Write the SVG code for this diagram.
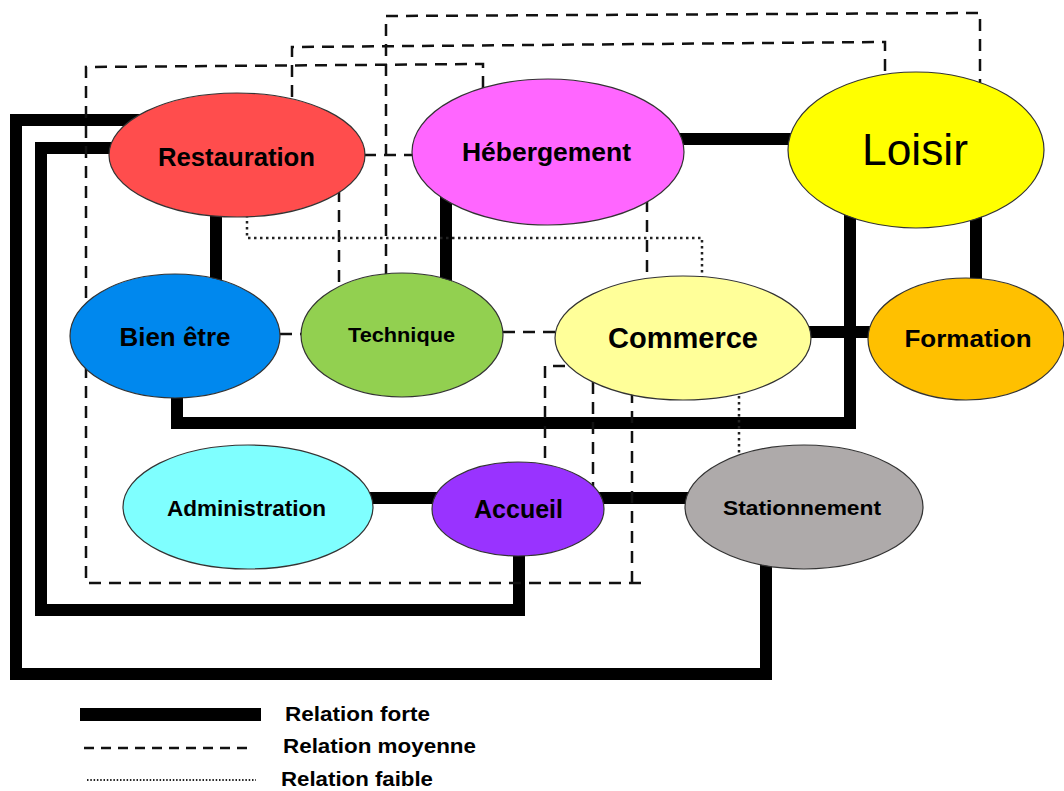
<svg xmlns="http://www.w3.org/2000/svg" width="1064" height="791" viewBox="0 0 1064 791">
<style>
.strong{fill:none;stroke:#000;stroke-width:12;stroke-linejoin:miter;stroke-linecap:butt}
.medium{fill:none;stroke:#111;stroke-width:2.5;stroke-dasharray:12 8}
.weak{fill:none;stroke:#222;stroke-width:2.5;stroke-dasharray:2.5 3.5}
.node ellipse{stroke:#333;stroke-width:1.2}
.lbl{font-family:"Liberation Sans",Arial,sans-serif;font-weight:bold;fill:#000;text-anchor:middle}
.big{font-family:"Liberation Sans",Arial,sans-serif;font-weight:normal;fill:#000;text-anchor:middle}
.leg{font-family:"Liberation Sans",Arial,sans-serif;font-weight:bold;fill:#000}
</style>
<rect width="1064" height="791" fill="#fff"/>
<g id="connectors">
  <path class="strong" d="M140 120 H16 V674 H766 V555"/>
  <path class="strong" d="M120 148 H41 V610 H519 V545"/>
  <path class="strong" d="M216 205 V285"/>
  <path class="strong" d="M446 195 V285"/>
  <path class="strong" d="M675 139 H795"/>
  <path class="strong" d="M976 210 V290"/>
  <path class="strong" d="M850 210 V423 H177 V390"/>
  <path class="strong" d="M805 332 H875"/>
  <path class="strong" d="M365 498 H440"/>
  <path class="strong" d="M598 498 H692"/>

  <path class="medium" d="M364 155 H414"/>
  <path class="medium" d="M483 88 V64 L86 67 V583 H644"/>
  <path class="medium" d="M632 583 V392"/>
  <path class="medium" d="M292 97 V47 L885 42 V76"/>
  <path class="medium" d="M386 276 V16 L980 13 V85"/>
  <path class="medium" d="M339 190 V288"/>
  <path class="medium" d="M280 334 H302"/>
  <path class="medium" d="M503 332 H556"/>
  <path class="medium" d="M647 200 V282"/>
  <path class="medium" d="M565 366 H545 V467"/>
  <path class="medium" d="M593 382 V490"/>

  <path class="weak" d="M247 215 V238 H702 V280"/>
  <path class="weak" d="M739 390 V456"/>
</g>
<g id="restauration" class="node">
  <ellipse cx="237" cy="155" rx="128" ry="62" fill="#FF4D4D"/>
  <text class="lbl" x="236.5" y="166" font-size="25" textLength="157" lengthAdjust="spacingAndGlyphs">Restauration</text>
</g>
<g id="hebergement" class="node">
  <ellipse cx="548" cy="152" rx="136" ry="73" fill="#FF66FF"/>
  <text class="lbl" x="546.5" y="161" font-size="25" textLength="169" lengthAdjust="spacingAndGlyphs">Hébergement</text>
</g>
<g id="loisir" class="node">
  <ellipse cx="916" cy="150" rx="128" ry="78" fill="#FFFF00"/>
  <text class="big" x="915" y="165" font-size="44" textLength="106" lengthAdjust="spacingAndGlyphs">Loisir</text>
</g>
<g id="bien-etre" class="node">
  <ellipse cx="175" cy="336" rx="105" ry="62" fill="#0088EE"/>
  <text class="lbl" x="175" y="346" font-size="25" textLength="111" lengthAdjust="spacingAndGlyphs">Bien être</text>
</g>
<g id="technique" class="node">
  <ellipse cx="402" cy="335" rx="101" ry="62" fill="#92D050"/>
  <text class="lbl" x="401.5" y="342" font-size="21" textLength="107" lengthAdjust="spacingAndGlyphs">Technique</text>
</g>
<g id="commerce" class="node">
  <ellipse cx="683" cy="338" rx="128" ry="62" fill="#FFFF99"/>
  <text class="lbl" x="683" y="348" font-size="29" textLength="150" lengthAdjust="spacingAndGlyphs">Commerce</text>
</g>
<g id="formation" class="node">
  <ellipse cx="966" cy="339" rx="98" ry="61" fill="#FFC000"/>
  <text class="lbl" x="968" y="347" font-size="24" textLength="127" lengthAdjust="spacingAndGlyphs">Formation</text>
</g>
<g id="administration" class="node">
  <ellipse cx="248" cy="507" rx="125" ry="62" fill="#7FFFFF"/>
  <text class="lbl" x="246.5" y="516" font-size="22" textLength="159" lengthAdjust="spacingAndGlyphs">Administration</text>
</g>
<g id="accueil" class="node">
  <ellipse cx="518" cy="509" rx="86" ry="47" fill="#9933FF"/>
  <text class="lbl" x="518.5" y="518" font-size="25" textLength="89" lengthAdjust="spacingAndGlyphs">Accueil</text>
</g>
<g id="stationnement" class="node">
  <ellipse cx="804" cy="507" rx="119" ry="62" fill="#AEAAAA"/>
  <text class="lbl" x="802" y="515" font-size="21" textLength="158" lengthAdjust="spacingAndGlyphs">Stationnement</text>
</g>
<g id="legend">
  <rect x="80" y="708" width="181" height="13" fill="#000"/>
  <path d="M84 748 H254" fill="none" stroke="#111" stroke-width="2.5" stroke-dasharray="10 7"/>
  <path d="M87 780 H256" fill="none" stroke="#222" stroke-width="2" stroke-dasharray="1.5 1.8"/>
  <text class="leg" x="285" y="721" font-size="20" textLength="145" lengthAdjust="spacingAndGlyphs">Relation forte</text>
  <text class="leg" x="283" y="753" font-size="20" textLength="193" lengthAdjust="spacingAndGlyphs">Relation moyenne</text>
  <text class="leg" x="281" y="786" font-size="20" textLength="152" lengthAdjust="spacingAndGlyphs">Relation faible</text>
</g>
</svg>
